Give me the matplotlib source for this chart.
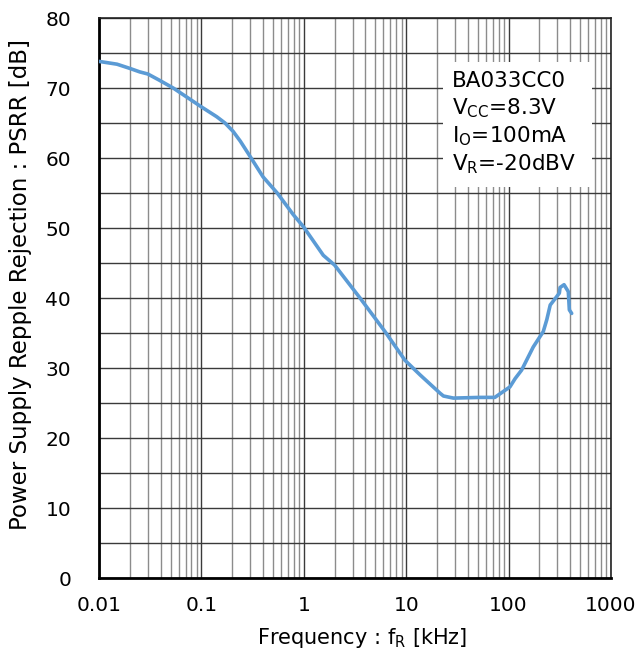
import matplotlib
matplotlib.use("Agg")
import matplotlib.pyplot as plt
from matplotlib.ticker import LogLocator, FixedLocator, NullFormatter, FixedFormatter
from matplotlib.patches import Rectangle

plt.rcParams['font.family'] = ['DejaVu Sans']
plt.rcParams['mathtext.fontset'] = 'dejavusans'

freq_khz = [0.01, 0.015, 0.02, 0.025, 0.03, 0.039, 0.053, 0.072, 0.1, 0.141,
            0.17, 0.204, 0.24, 0.285, 0.40, 0.55, 0.79, 0.99, 1.55, 2.0, 3.54, 6.21,
            9.73, 13.7, 21.4, 23.1, 28.9, 52.5, 73.4, 103, 116, 134,
            174, 218, 236, 255, 295, 313, 318, 348, 383, 392, 413]
psrr_db = [73.8, 73.4, 72.8, 72.3, 72.0, 71.1, 70.0, 68.7, 67.3, 65.9,
           65.0, 63.8, 62.4, 60.7, 57.3, 55.0, 51.9, 50.2, 46.1, 44.7, 40.0, 35.2,
           31.1, 29.0, 26.4, 26.0, 25.7, 25.8, 25.8, 27.3, 28.5, 29.7,
           33.0, 35.2, 36.9, 39.0, 40.2, 40.7, 41.5, 41.9, 40.9, 38.3, 37.8]

x_ticks = [0.01, 0.1, 1, 10, 100, 1000]
x_tick_labels = ["0.01", "0.1", "1", "10", "100", "1000"]
y_ticks = [0, 10, 20, 30, 40, 50, 60, 70, 80]

info_lines = ["BA033CC0", r"V$_{\mathrm{CC}}$=8.3V", r"I$_{\mathrm{O}}$=100mA", r"V$_{\mathrm{R}}$=-20dBV"]

W, H = 641, 664
fig = plt.figure(figsize=(W / 100, H / 100), dpi=100)
L, R, T, B = 99, 611, 18, 578
ax = fig.add_axes([L / W, 1 - B / H, (R - L) / W, (B - T) / H])

ax.set_xscale('log')
ax.set_xlim(0.01, 1000)
ax.set_ylim(0, 80)

ax.xaxis.set_major_locator(FixedLocator(x_ticks))
ax.xaxis.set_major_formatter(FixedFormatter(x_tick_labels))
ax.xaxis.set_minor_locator(LogLocator(base=10, subs=range(2, 10), numticks=50))
ax.xaxis.set_minor_formatter(NullFormatter())
ax.yaxis.set_major_locator(FixedLocator(y_ticks))
ax.yaxis.set_minor_locator(FixedLocator([5, 15, 25, 35, 45, 55, 65, 75]))

ax.grid(which='major', axis='both', color='#3a3a3a', linewidth=1.0)
ax.grid(which='minor', axis='x', color='#8c8c8c', linewidth=1.0)
ax.grid(which='minor', axis='y', color='#3a3a3a', linewidth=1.0)
ax.set_axisbelow(True)

ax.tick_params(which='both', length=0)
ax.tick_params(axis='y', labelsize=14.5, pad=20)
ax.tick_params(axis='x', labelsize=14.5, pad=13)

for s in ['left', 'bottom']:
    ax.spines[s].set_linewidth(2.0)
    ax.spines[s].set_color('black')
for s in ['top', 'right']:
    ax.spines[s].set_linewidth(1.2)
    ax.spines[s].set_color('#222222')

ax.plot(freq_khz, psrr_db, color='#5B9BD5', linewidth=2.6, solid_capstyle='round', zorder=3)

# info box
bx0, bx1, by0, by1 = 443, 592, 62, 187
ax.add_patch(Rectangle(((bx0 - L) / (R - L), (B - by1) / (B - T)),
                       (bx1 - bx0) / (R - L), (by1 - by0) / (B - T),
                       transform=ax.transAxes, facecolor='white', edgecolor='none', zorder=2.5))
baselines = [87, 114.5, 142, 170]
for line, bl in zip(info_lines, baselines):
    ax.text((452 - L) / (R - L), (B - bl) / (B - T), line, transform=ax.transAxes,
            fontsize=15.5, va='baseline', ha='left', zorder=4)

ax.set_xlabel(r"Frequency : f$_{\mathrm{R}}$ [kHz]", fontsize=15)
ax.xaxis.set_label_coords((362 - L) / (R - L), (B - 626) / (B - T))
ax.set_ylabel("Power Supply Repple Rejection : PSRR [dB]", fontsize=16.5)
ax.yaxis.set_label_coords((32 - L) / (R - L), (B - 285) / (B - T))

fig.savefig("out.png", dpi=100, facecolor='white')
